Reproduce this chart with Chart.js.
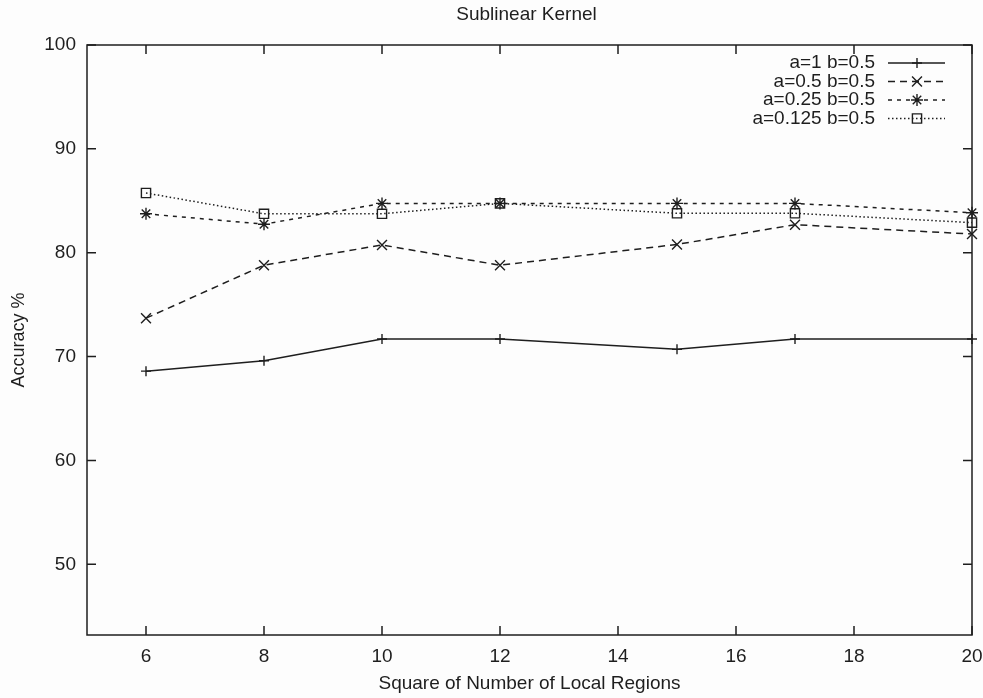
<!DOCTYPE html>
<html>
<head>
<meta charset="utf-8">
<script src="https://cdn.jsdelivr.net/npm/chart.js@4.4.1/dist/chart.umd.min.js"></script>
<style>
  html, body { margin: 0; padding: 0; background: #fdfdfd; }
  #wrap { width: 983px; height: 698px; }
</style>
</head>
<body>
<div id="wrap"><canvas id="chart" width="983" height="698"></canvas></div>
<script>
// data ---------------------------- { Data }
const regions = [6, 8, 10, 12, 15, 17, 20];
const accA1 = [68.6, 69.6, 71.7, 71.7, 70.7, 71.7, 71.7];
const accA05 = [73.7, 78.8, 80.75, 78.8, 80.8, 82.7, 81.8];
const accA025 = [83.75, 82.75, 84.75, 84.75, 84.75, 84.75, 83.85];
const accA0125 = [85.75, 83.75, 83.75, 84.75, 83.8, 83.8, 82.9];
const seriesLabels = ["a=1 b=0.5", "a=0.5 b=0.5", "a=0.25 b=0.5", "a=0.125 b=0.5"];
const xTicks = [6, 8, 10, 12, 14, 16, 18, 20];
const yTicks = [50, 60, 70, 80, 90, 100];
const chartTitle = "Sublinear Kernel";
const xTitle = "Square of Number of Local Regions";
const yTitle = "Accuracy %";

const ink = "#1e1e1e";
const font = "'Liberation Sans', Arial, sans-serif";

// styles for each series ------------------------------- { Styles }
const styles = [
  { dash: [], point: "cross", radius: 5 },
  { dash: [7, 5], point: "crossRot", radius: 7 },
  { dash: [4, 5], point: "star", radius: 6 },
  { dash: [1.5, 2.5], point: "rect", radius: 6.5 },
];
const allSeries = [accA1, accA05, accA025, accA0125];

const datasets = allSeries.map((values, i) => ({
  label: seriesLabels[i],
  data: regions.map((x, j) => ({ x: x, y: values[j] })),
  borderColor: ink,
  borderWidth: 1.5,
  borderDash: styles[i].dash,
  pointStyle: styles[i].point,
  pointRadius: styles[i].radius,
  pointBorderWidth: 1.4,
  pointBorderColor: ink,
  pointBackgroundColor: "rgba(0,0,0,0)",
  tension: 0,
  clip: false,
}));

// frame, inside ticks, title and legend ---------------- { Plugin }
const gnuFrame = {
  id: "gnuFrame",
  afterDatasetsDraw(chart) {
    const { ctx, chartArea: a, scales } = chart;
    const tickLen = 9;
    ctx.save();
    ctx.strokeStyle = ink;
    ctx.lineWidth = 1.5;
    ctx.setLineDash([]);
    ctx.strokeRect(a.left, a.top, a.right - a.left, a.bottom - a.top);
    ctx.beginPath();
    xTicks.forEach((v) => {
      const x = scales.x.getPixelForValue(v);
      ctx.moveTo(x, a.bottom);
      ctx.lineTo(x, a.bottom - tickLen);
      ctx.moveTo(x, a.top);
      ctx.lineTo(x, a.top + tickLen);
    });
    yTicks.forEach((v) => {
      const y = scales.y.getPixelForValue(v);
      ctx.moveTo(a.left, y);
      ctx.lineTo(a.left + tickLen, y);
      ctx.moveTo(a.right, y);
      ctx.lineTo(a.right - tickLen, y);
    });
    ctx.stroke();

    // title
    ctx.fillStyle = ink;
    ctx.font = "19px " + font;
    ctx.textAlign = "center";
    ctx.textBaseline = "middle";
    ctx.fillText(chartTitle, (a.left + a.right) / 2 - 3, 15);

    // legend
    const textRight = a.right - 97;
    const lineStart = a.right - 84;
    const lineEnd = a.right - 27;
    const markX = a.right - 55;
    seriesLabels.forEach((label, i) => {
      const y = a.top + 18 + i * 18.5;
      ctx.fillStyle = ink;
      ctx.textAlign = "right";
      ctx.fillText(label, textRight, y);
      ctx.lineWidth = 1.5;
      ctx.setLineDash(styles[i].dash);
      ctx.beginPath();
      ctx.moveTo(lineStart, y);
      ctx.lineTo(lineEnd, y);
      ctx.stroke();
      ctx.setLineDash([]);
      ctx.lineWidth = 1.4;
      ctx.fillStyle = "rgba(0,0,0,0)";
      Chart.helpers.drawPoint(ctx, {
        pointStyle: styles[i].point,
        radius: styles[i].radius,
        rotation: 0,
        borderWidth: 1.4,
      }, markX, y);
    });
    ctx.restore();
  },
};

const ctx = document.getElementById("chart").getContext("2d");
const chart = new Chart(ctx, {
  type: "line",
  data: { datasets: datasets },
  options: {
    responsive: false,
    animation: false,
    devicePixelRatio: 1,
    layout: { padding: { top: 45, right: 11, bottom: 0, left: 0 } },
    plugins: {
      legend: { display: false },
      tooltip: { enabled: false },
      title: { display: false },
    },
    scales: {
      x: {
        type: "linear",
        min: 5,
        max: 20,
        grid: { display: false, drawTicks: false },
        border: { display: false },
        afterBuildTicks: (scale) => {
          scale.ticks = xTicks.map((v) => ({ value: v }));
        },
        afterFit: (scale) => {
          scale.height = 63;
          scale.paddingLeft = 0;
          scale.paddingRight = 0;
        },
        ticks: {
          color: ink,
          font: { family: font, size: 19 },
          padding: 10,
          maxRotation: 0,
          autoSkip: false,
        },
        title: {
          display: true,
          text: xTitle,
          color: ink,
          font: { family: font, size: 19 },
          padding: { top: 0, bottom: 3 },
        },
      },
      y: {
        type: "linear",
        min: 43.2,
        max: 100,
        grid: { display: false, drawTicks: false },
        border: { display: false },
        afterBuildTicks: (scale) => {
          scale.ticks = yTicks.map((v) => ({ value: v }));
        },
        afterFit: (scale) => {
          scale.width = 87;
          scale.paddingTop = 0;
          scale.paddingBottom = 0;
        },
        ticks: {
          color: ink,
          font: { family: font, size: 19 },
          padding: 11,
          autoSkip: false,
        },
        title: {
          display: true,
          text: yTitle,
          color: ink,
          font: { family: font, size: 18 },
          padding: { top: 8, bottom: 0 },
        },
      },
    },
  },
  plugins: [gnuFrame],
});
</script>
</body>
</html>
